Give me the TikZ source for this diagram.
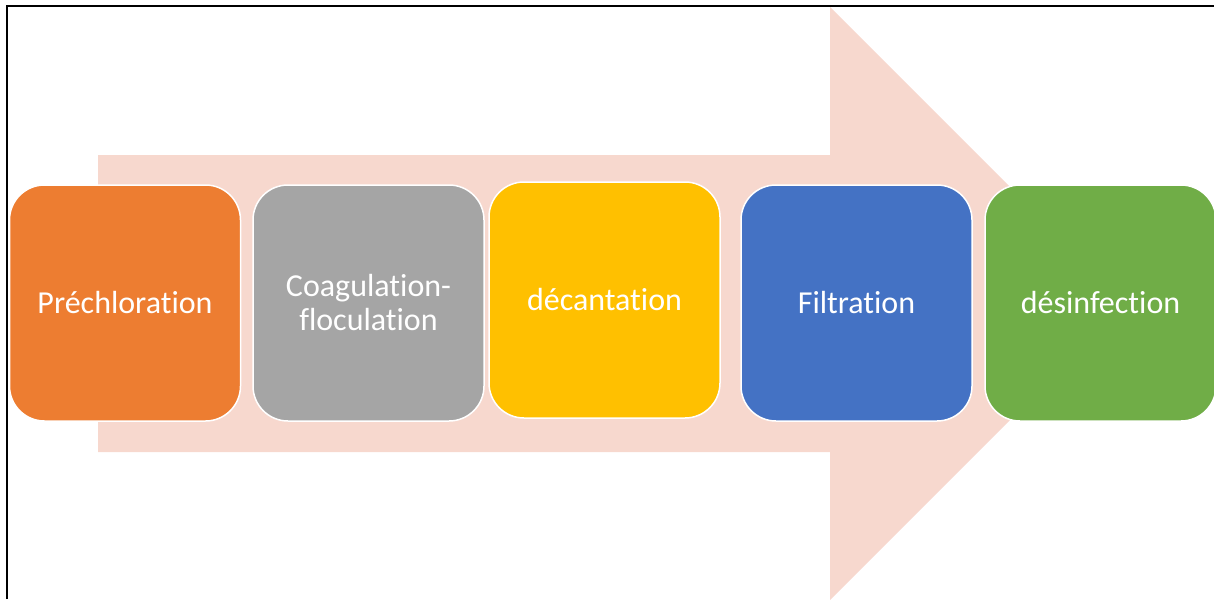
\documentclass[tikz,border=0pt]{standalone}
\usepackage{fontspec}
\setmainfont{Carlito}[Ligatures=NoCommon]
\usetikzlibrary{positioning}

\definecolor{arrowfill}{HTML}{F7D8CE}
\definecolor{stageorange}{HTML}{ED7D31}
\definecolor{stagegrey}{HTML}{A5A5A5}
\definecolor{stageyellow}{HTML}{FFC000}
\definecolor{stageblue}{HTML}{4472C4}
\definecolor{stagegreen}{HTML}{70AD47}

\begin{document}
\begin{tikzpicture}[
  x=1pt, y=-1pt,
  font=\fontsize{32}{34}\selectfont,
  stage/.style={
    draw=white,
    line width=1.5pt,
    rounded corners=35pt,
    text=white,
    align=center,
    inner sep=0pt,
    minimum width=231pt,
    minimum height=236pt
  },
  frame/.style={draw=black, line width=2pt},
  bigarrow/.style={fill=arrowfill}
]

\useasboundingbox (0,0) rectangle (1214,599);

% background arrow
\fill[bigarrow] (98,155) -- (830,155) -- (830,7) -- (1126.5,303.5)
  -- (830,600) -- (830,452) -- (98,452) -- cycle;

\node[stage, fill=stageorange] (prechlor) at (125,303) {Préchloration};
\node[stage, fill=stagegrey] (coag) at (368.5,303) {Coagulation-\\floculation};
\node[stage, fill=stageyellow] (decant) at (604.5,300) {décantation};
\node[stage, fill=stageblue] (filtr) at (856.5,303) {Filtration};
\node[stage, fill=stagegreen] (desinf) at (1100.5,303) {désinfection};

% frame
\draw[frame] (7,599) -- (7,6) -- (1214,6);

\end{tikzpicture}
\end{document}
